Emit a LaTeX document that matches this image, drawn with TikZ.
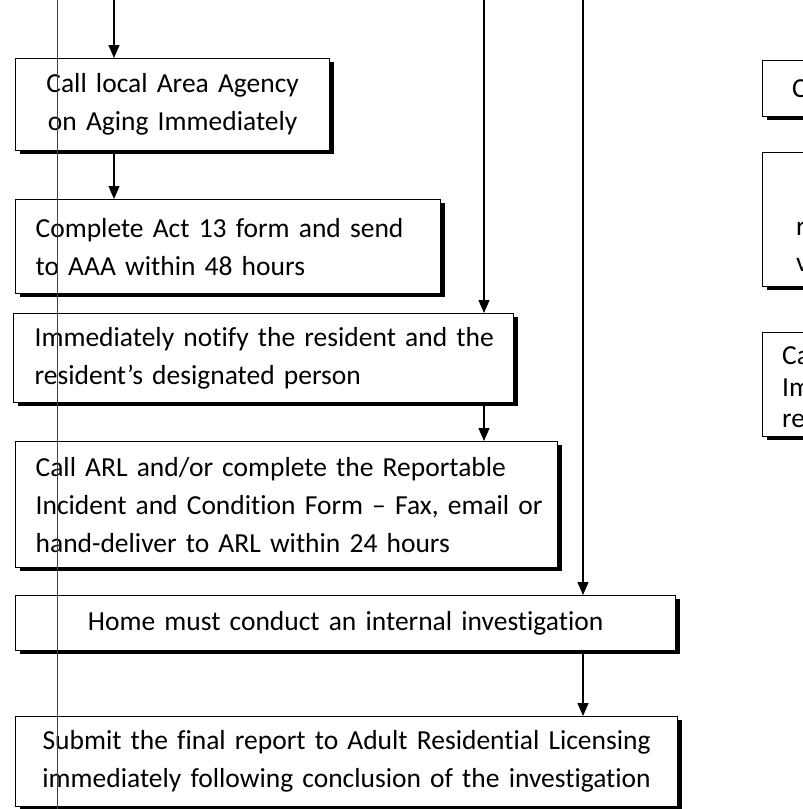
\documentclass[tikz,border=0pt]{standalone}
\usepackage{fontspec}
\setmainfont{Carlito}[Ligatures=NoCommon]
\usetikzlibrary{arrows.meta,shadows}
\begin{document}
\begin{tikzpicture}[x=1pt,y=-1pt,
  font=\fontsize{27.5}{38}\selectfont,
  box/.style={draw=black, line width=1.3pt, fill=white, anchor=north west,
    inner xsep=20pt, inner ysep=0pt,
    drop shadow={shadow xshift=4.5pt, shadow yshift=-3pt, fill=black, opacity=1}},
  arr/.style={line width=1.2pt, -{Triangle[width=11pt,length=13pt]}},
  scan/.style={line width=0.9pt, draw=black!75}]
\clip (0,0) rectangle (803,809);
\fill[white] (0,0) rectangle (803,809);

% left column boxes
\node[box, text width=274pt, align=center, minimum height=92pt] (b1) at (15,58)
  {Call local Area Agency\\on Aging Immediately};
\node[box, text width=385pt, align=left, minimum height=94pt] (b2) at (15,199)
  {\mbox{Complete Act 13 form and send}\\\mbox{to AAA within 48 hours}};
\node[box, text width=458pt, inner xsep=21pt, align=left, minimum height=89pt] (b3) at (13,313)
  {\mbox{Immediately notify the resident and the}\\\mbox{resident’s designated person}};
\node[box, text width=502pt, align=left, minimum height=126pt] (b4) at (15,441)
  {\mbox{Call ARL and/or complete the Reportable}\\\mbox{Incident and Condition Form – Fax, email or}\\\mbox{hand-deliver to ARL within 24 hours}};
\node[box, text width=620pt, align=center, minimum height=55pt] (b5) at (15,595)
  {Home must conduct an internal investigation};
\node[box, text width=622pt, align=center, minimum height=90pt] (b6) at (15,716)
  {\mbox{Submit the final report to Adult Residential Licensing}\\\mbox{immediately following conclusion of the investigation}};

% right column boxes (cut by the page edge)
\node[box, minimum width=200pt, minimum height=56pt] (r1) at (762,60) {};
\node[box, minimum width=200pt, minimum height=134pt] (r2) at (762,152) {};
\node[box, minimum width=200pt, minimum height=104pt] (r3) at (762,332) {};
\node[anchor=base west, inner sep=0pt] (r1t) at (792,97) {C};
\node[anchor=base west, inner sep=0pt] (r2a) at (796,235) {r};
\node[anchor=base west, inner sep=0pt] (r2b) at (796,271) {v};
\node[anchor=base west, inner sep=0pt] (r3a) at (782,364) {Ca};
\node[anchor=base west, inner sep=0pt] (r3b) at (782,396) {Im};
\node[anchor=base west, inner sep=0pt] (r3c) at (782,427) {re};

% connectors
\coordinate (c1) at (114,0);
\coordinate (c2) at (484,0);
\coordinate (c3) at (583,0);
\draw[arr] (c1) -- (c1 |- b1.north);
\draw[arr] (c1 |- b1.south) -- (c1 |- b2.north);
\draw[arr] (c2) -- (c2 |- b3.north);
\draw[arr] (c2 |- b3.south) -- (c2 |- b4.north);
\draw[arr] (c3) -- (c3 |- b5.north);
\draw[arr] (c3 |- b5.south) -- (c3 |- b6.north);

% thin vertical scan line
\coordinate (s1) at (57,0);
\coordinate (s2) at (57,809);
\draw[scan] (s1) -- (s2);
\end{tikzpicture}
\end{document}
